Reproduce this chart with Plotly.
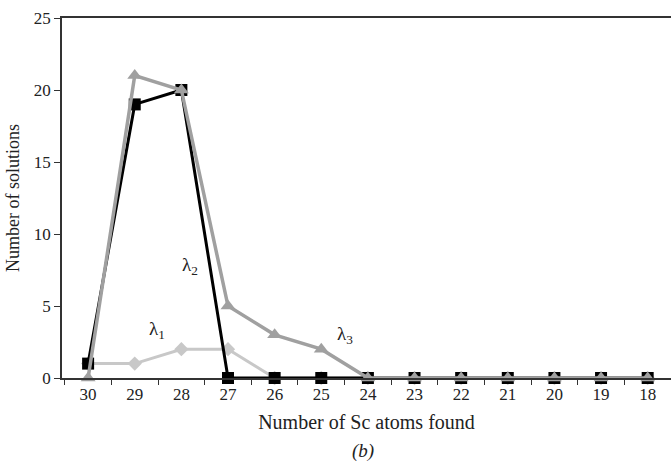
import plotly.graph_objects as go

categories = ["30", "29", "28", "27", "26", "25", "24", "23", "22", "21", "20", "19", "18"]
lambda1 = [1, 1, 2, 2, 0, 0, 0, 0, 0, 0, 0, 0, 0]
lambda2 = [1, 19, 20, 0, 0, 0, 0, 0, 0, 0, 0, 0, 0]
lambda3 = [0, 21, 20, 5, 3, 2, 0, 0, 0, 0, 0, 0, 0]
y_ticks = [0, 5, 10, 15, 20, 25]

FONT = "Liberation Serif, Times New Roman, serif"

fig = go.Figure()
fig.add_trace(go.Scatter(x=categories, y=lambda1, mode="lines+markers",
                         line=dict(color="#c8c8c8", width=3),
                         marker=dict(symbol="diamond", size=11, color="#c8c8c8"),
                         cliponaxis=False, showlegend=False))
fig.add_trace(go.Scatter(x=categories, y=lambda2, mode="lines+markers",
                         line=dict(color="#000000", width=3),
                         marker=dict(symbol="square", size=12, color="#000000"),
                         cliponaxis=False, showlegend=False))
fig.add_trace(go.Scatter(x=categories, y=lambda3, mode="lines+markers",
                         line=dict(color="#a0a0a0", width=3.5),
                         marker=dict(symbol="triangle-up", size=13, color="#a0a0a0"),
                         cliponaxis=False, showlegend=False))

# label positions by category index
fig.add_annotation(x=2, y=7.8, xshift=9, text="λ<sub>2</sub>", showarrow=False,
                   font=dict(family=FONT, size=19, color="#222"))
fig.add_annotation(x=1, y=3.3, xshift=22, text="λ<sub>1</sub>", showarrow=False,
                   font=dict(family=FONT, size=19, color="#222"))
fig.add_annotation(x=5, y=3.0, xshift=24, text="λ<sub>3</sub>", showarrow=False,
                   font=dict(family=FONT, size=19, color="#222"))
fig.add_annotation(x=0.495, y=-0.24, xref="paper", yref="paper", text="<i>(b)</i>",
                   showarrow=False, font=dict(family=FONT, size=19, color="#222"))

fig.update_layout(
    width=671, height=464,
    margin=dict(l=62, r=0, t=18, b=86),
    paper_bgcolor="white", plot_bgcolor="white",
    font=dict(family=FONT, size=17, color="#222"),
    xaxis=dict(type="category", categoryorder="array", categoryarray=categories,
               range=[-0.56, 12.5], tickson="boundaries", ticks="outside", ticklen=5,
               tickcolor="#333", showline=True, linecolor="#333", linewidth=1.5,
               mirror=True, showgrid=False, zeroline=False,
               title=dict(text="Number of Sc atoms found", font=dict(size=20), standoff=12)),
    yaxis=dict(range=[0, 25], tickvals=y_ticks, ticks="outside", ticklen=6,
               tickcolor="#333", showline=True, linecolor="#333", linewidth=1.5,
               showgrid=False, zeroline=False,
               title=dict(text="Number of solutions", font=dict(size=18), standoff=10)),
)

fig.write_html("out.html")
